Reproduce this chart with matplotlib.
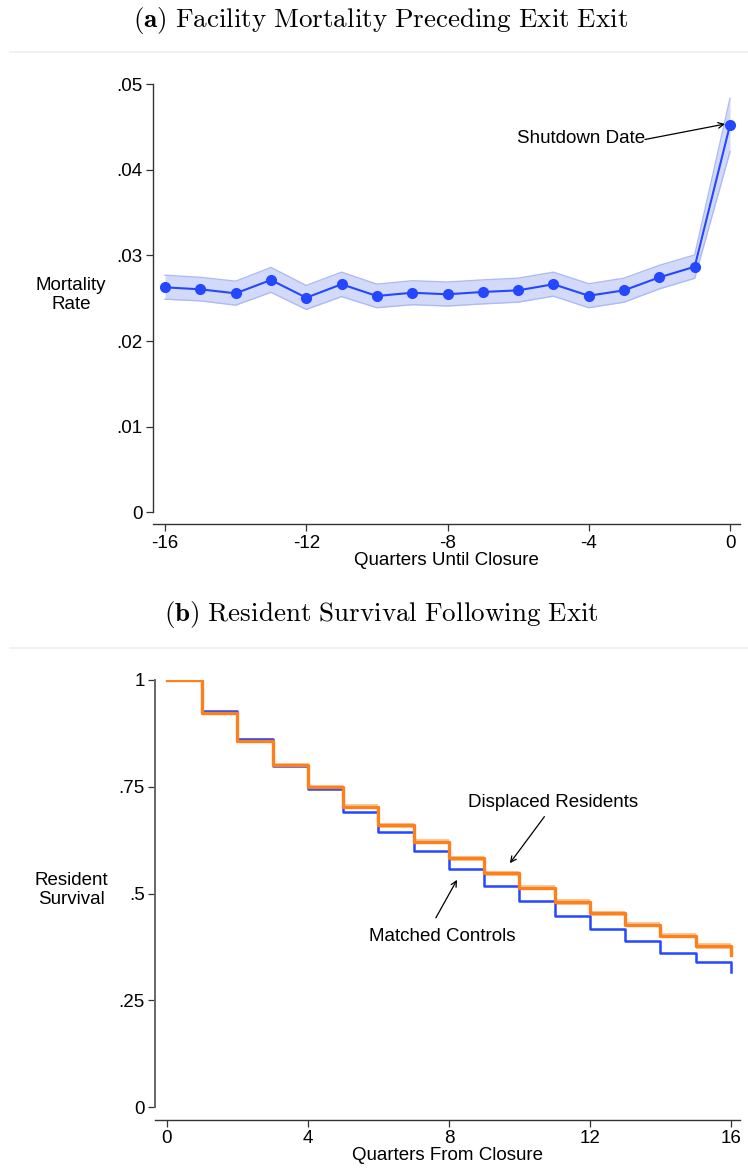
import numpy as np
import matplotlib
matplotlib.use("Agg")
import matplotlib.pyplot as plt
from matplotlib.lines import Line2D

# ---- data -------------------------------------------------------------
quarters_until = list(range(-16, 1))
mortality_rate = [0.02628, 0.02605, 0.02558, 0.02714, 0.02507, 0.02664, 0.02527,
                  0.02565, 0.02547, 0.02574, 0.02593, 0.02664, 0.02530, 0.02593,
                  0.02745, 0.02869, 0.04525]
mortality_lo = [0.02490, 0.02470, 0.02420, 0.02570, 0.02370, 0.02520, 0.02390,
                0.02425, 0.02410, 0.02435, 0.02455, 0.02525, 0.02390, 0.02455,
                0.02610, 0.02734, 0.04213]
mortality_hi = [0.02770, 0.02745, 0.02700, 0.02860, 0.02650, 0.02805, 0.02665,
                0.02705, 0.02690, 0.02715, 0.02735, 0.02805, 0.02670, 0.02735,
                0.02885, 0.03006, 0.04836]

quarters_from = list(range(0, 17))
displaced_surv = [1.0, 0.923, 0.858, 0.801, 0.749, 0.703, 0.660, 0.621, 0.582,
                  0.547, 0.514, 0.480, 0.454, 0.427, 0.401, 0.377, 0.356]
displaced_lo = [1.0, 0.918, 0.853, 0.796, 0.744, 0.697, 0.654, 0.615, 0.576,
                0.541, 0.508, 0.474, 0.448, 0.421, 0.395, 0.371, 0.350]
displaced_hi = [1.0, 0.928, 0.863, 0.806, 0.754, 0.709, 0.666, 0.627, 0.588,
                0.553, 0.520, 0.486, 0.460, 0.433, 0.407, 0.383, 0.362]
control_surv = [1.0, 0.928, 0.861, 0.799, 0.745, 0.692, 0.644, 0.600, 0.558,
                0.518, 0.483, 0.448, 0.418, 0.389, 0.361, 0.339, 0.317]

mort_yticks = [0, 0.01, 0.02, 0.03, 0.04, 0.05]
mort_yticklabels = ["0", ".01", ".02", ".03", ".04", ".05"]
mort_xticks = [-16, -12, -8, -4, 0]
surv_yticks = [0, 0.25, 0.5, 0.75, 1]
surv_yticklabels = ["0", ".25", ".5", ".75", "1"]
surv_xticks = [0, 4, 8, 12, 16]

# ---- style ------------------------------------------------------------
plt.rcParams["font.family"] = ["Liberation Sans", "DejaVu Sans"]
plt.rcParams["mathtext.fontset"] = "cm"

W, H = 748, 1169
BLUE = "#2447ff"
BLUE_BAND = "#d3daf9"
BLUE_EDGE = "#aebaf4"
ORANGE = "#ff7f1a"
ORANGE_BAND = "#fbc79a"
AX_COL = "#333333"
FS = 13.5


def fx(x):
    return x / W


def fy(y):
    return 1 - y / H


fig = plt.figure(figsize=(W / 100, H / 100), dpi=100)
fig.patch.set_facecolor("white")

# faint graph-region borders
for yline in (52, 648):
    fig.add_artist(Line2D([fx(10), 1.0], [fy(yline), fy(yline)], color="#eceff2", lw=1.2))

# titles
fig.text(fx(381), fy(20), r"$\mathbf{(a)}\ \mathrm{Facility\ Mortality\ Preceding\ Exit\ Exit}$",
         ha="center", va="center", fontsize=19.5)
fig.text(fx(381), fy(615), r"$\mathbf{(b)}\ \mathrm{Resident\ Survival\ Following\ Exit}$",
         ha="center", va="center", fontsize=19.5)


def style_axes(ax, out_pts):
    for s in ("top", "right"):
        ax.spines[s].set_visible(False)
    ax.spines["left"].set_color(AX_COL)
    ax.spines["bottom"].set_color(AX_COL)
    ax.spines["left"].set_linewidth(1.0)
    ax.spines["bottom"].set_linewidth(1.0)
    ax.spines["bottom"].set_position(("outward", out_pts))
    ax.tick_params(direction="out", length=5, width=0.9, color=AX_COL,
                   labelsize=FS, pad=2.5)


# ---- panel (a) --------------------------------------------------------
ax1 = fig.add_axes([fx(153), fy(512.3), fx(740) - fx(153), fy(84.3) - fy(512.3)])
x1 = np.array(quarters_until)
ax1.fill_between(x1, mortality_lo, mortality_hi, color=BLUE_BAND, lw=0, zorder=1)
ax1.plot(x1, mortality_lo, color=BLUE_EDGE, lw=1.0, zorder=1.5)
ax1.plot(x1, mortality_hi, color=BLUE_EDGE, lw=1.0, zorder=1.5)
ax1.plot(x1, mortality_rate, color=BLUE, lw=1.5, marker="o", ms=7, zorder=3,
         clip_on=False)
ax1.set_xlim(-16.34, 0.283)
ax1.set_ylim(0, 0.05)
ax1.set_yticks(mort_yticks)
ax1.set_yticklabels(mort_yticklabels)
ax1.set_xticks(mort_xticks)
ax1.set_xticklabels([str(v) for v in mort_xticks])
style_axes(ax1, 8.6)
ax1.set_xlabel("Quarters Until Closure", fontsize=FS, labelpad=0)
fig.text(fx(71), fy(295), "Mortality\nRate", ha="center", va="center",
         fontsize=FS, linespacing=1.15)
ax1.annotate("", xy=(-0.14, 0.04536), xytext=(-2.41, 0.04355),
             arrowprops=dict(arrowstyle="->", color="black", lw=0.9,
                             shrinkA=0, shrinkB=0))
ax1.text(-2.41, 0.04372, "Shutdown Date", ha="right", va="center", fontsize=FS)

# ---- panel (b) --------------------------------------------------------
ax2 = fig.add_axes([fx(155), fy(1107), fx(740) - fx(155), fy(680) - fy(1107)])
x2 = np.array(quarters_from)
ax2.fill_between(x2, displaced_lo, displaced_hi, step="post", color=ORANGE_BAND,
                 lw=0, zorder=2)
ax2.step(x2, control_surv, where="post", color=BLUE, lw=1.8, zorder=2.5)
ax2.step(x2, displaced_surv, where="post", color=ORANGE, lw=2.4, zorder=3)
ax2.set_xlim(-0.34, 16.26)
ax2.set_ylim(0, 1)
ax2.set_yticks(surv_yticks)
ax2.set_yticklabels(surv_yticklabels)
ax2.set_xticks(surv_xticks)
ax2.set_xticklabels([str(v) for v in surv_xticks])
style_axes(ax2, 9.4)
ax2.spines["left"].set_color("#666666")
ax2.spines["left"].set_linewidth(1.4)
ax2.set_xlabel("Quarters From Closure", fontsize=FS, labelpad=0)
fig.text(fx(71), fy(890), "Resident\nSurvival", ha="center", va="center",
         fontsize=FS, linespacing=1.15)

ax2.text(10.95, 0.714, "Displaced Residents", ha="center", va="center", fontsize=FS)
ax2.annotate("", xy=(9.73, 0.571), xytext=(10.71, 0.680),
             arrowprops=dict(arrowstyle="->", color="black", lw=0.9,
                             shrinkA=0, shrinkB=0))
ax2.text(7.80, 0.400, "Matched Controls", ha="center", va="center", fontsize=FS)
ax2.annotate("", xy=(8.23, 0.532), xytext=(7.63, 0.443),
             arrowprops=dict(arrowstyle="->", color="black", lw=0.9,
                             shrinkA=0, shrinkB=0))

fig.savefig("out.png", dpi=100, facecolor="white")
